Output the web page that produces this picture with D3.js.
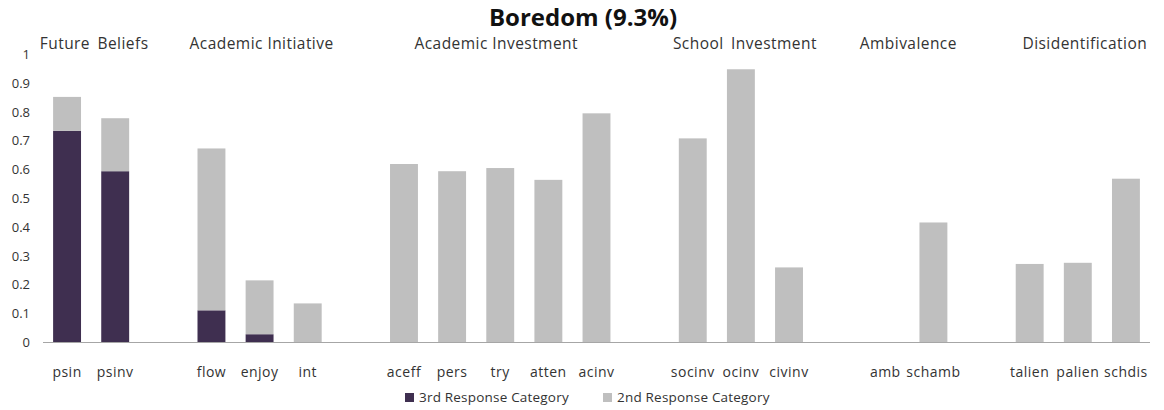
<!DOCTYPE html>
<html><head><meta charset="utf-8">
<script src="https://cdn.jsdelivr.net/npm/d3@7"></script>
<style>body{margin:0;background:#fff}svg{display:block}text{font-family:"Open Sans",Lato,sans-serif}</style>
</head><body><svg id="c" width="1164" height="410"></svg>
<script>
const categories = ["psin","psinv","_g1","flow","enjoy","int","_g2","aceff","pers","try","atten","acinv","_g3","socinv","ocinv","civinv","_g4","amb","schamb","_g5","talien","palien","schdis"];
const third  = [0.733,0.593,null,0.11,0.027,0,null,0,0,0,0,0,null,0,0,0,null,0,0,null,0,0,0];
const second = [0.118,0.184,null,0.562,0.187,0.134,null,0.618,0.593,0.604,0.563,0.794,null,0.707,0.947,0.259,null,0,0.415,null,0.271,0.275,0.567];
const groups = [
  {name:"Future Beliefs", first:"psin", last:"psinv"},
  {name:"Academic Initiative", first:"flow", last:"int"},
  {name:"Academic Investment", first:"aceff", last:"acinv"},
  {name:"School Investment", first:"socinv", last:"civinv"},
  {name:"Ambivalence", first:"amb", last:"schamb"},
  {name:"Disidentification", first:"talien", last:"schdis"}
];
const yTicks = [0,0.1,0.2,0.3,0.4,0.5,0.6,0.7,0.8,0.9,1];
const seriesNames = ["3rd Response Category","2nd Response Category"];
const colors = ["#3f2f50","#bfbfbf"];
const title = "Boredom (9.3%)";

const svg = d3.select("#c");
const x = d3.scaleBand().domain(categories).range([43,1150]).paddingInner(0.42).paddingOuter(0.21);
const y = d3.scaleLinear().domain([0,1]).range([342,54]);

svg.append("text").attr("x",583).attr("y",26).attr("text-anchor","middle")
  .attr("font-size",24).attr("font-weight","bold").attr("fill","#111").text(title);

// group labels (slightly shifted like the original)
const gShift = [3,2,-4,4,-1,7];
const gWord = [3,0,0,3,0,0];
groups.forEach((g,i)=>{
  const cx = (x(g.first) + x(g.last) + x.bandwidth())/2 + gShift[i];
  svg.append("text").attr("x",cx).attr("y",49).attr("text-anchor","middle")
    .attr("font-size",15.5).attr("letter-spacing",0.45).attr("word-spacing",gWord[i]).attr("fill","#333").text(g.name);
});

// y axis labels
svg.append("g").selectAll("text").data(yTicks).join("text")
  .attr("x",30).attr("y",d=>y(d)+5).attr("text-anchor","end")
  .attr("font-size",13).attr("fill","#333").text(d=>d3.format("")(d));

// bars
const data = categories.map((c,i)=>({c, a: third[i]||0, b: second[i]||0, blank: third[i]===null}));
const bars = svg.append("g");
data.filter(d=>!d.blank).forEach(d=>{
  if(d.a>0) bars.append("rect").attr("x",x(d.c)).attr("width",x.bandwidth())
     .attr("y",y(d.a)).attr("height",y(0)-y(d.a)).attr("fill",colors[0]);
  if(d.b>0) bars.append("rect").attr("x",x(d.c)).attr("width",x.bandwidth())
     .attr("y",y(d.a+d.b)).attr("height",y(d.a)-y(d.a+d.b)).attr("fill",colors[1]);
});

// x axis
svg.append("line").attr("x1",43).attr("x2",1150).attr("y1",y(0)+0.5).attr("y2",y(0)+0.5)
  .attr("stroke","#a6a6a6").attr("stroke-width",1.2);
svg.append("g").selectAll("text").data(categories.filter(c=>!c.startsWith("_"))).join("text")
  .attr("x",c=>x(c)+x.bandwidth()/2).attr("y",377).attr("text-anchor","middle")
  .attr("font-size",14).attr("letter-spacing",0.5).attr("fill","#333").text(c=>c);

// legend
const leg = [{x:405},{x:603}];
seriesNames.forEach((n,i)=>{
  svg.append("rect").attr("x",leg[i].x).attr("y",393).attr("width",9).attr("height",9).attr("fill",colors[i]);
  svg.append("text").attr("x",leg[i].x+14).attr("y",402).attr("font-size",13.5).attr("letter-spacing",0.2).attr("fill","#333").text(n);
});
</script></body></html>
